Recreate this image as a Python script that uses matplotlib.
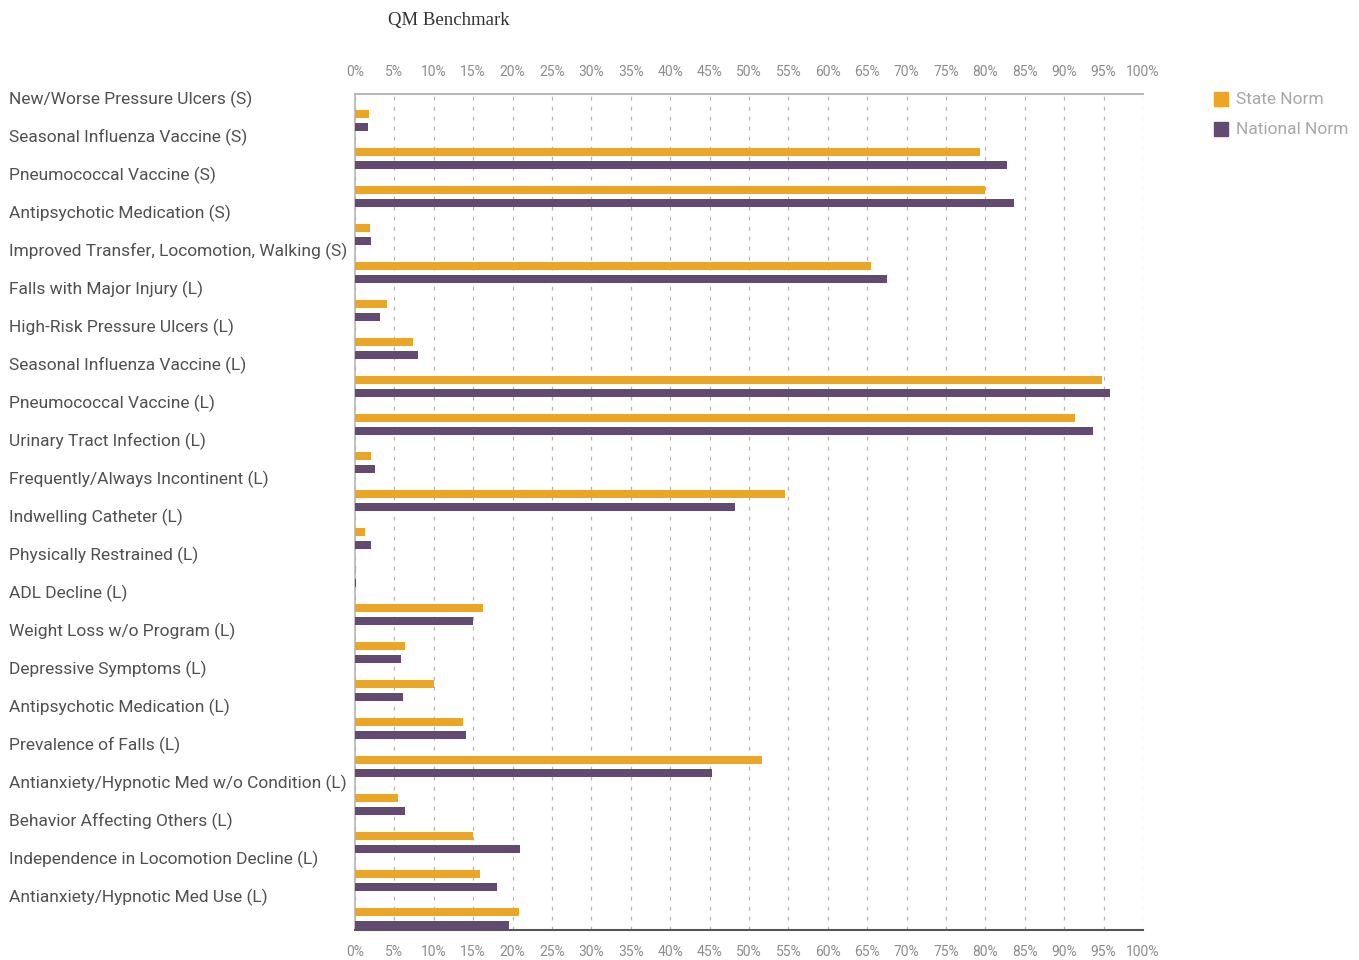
import numpy as np
import matplotlib
matplotlib.use('Agg')
import matplotlib.pyplot as plt
import matplotlib.transforms as mtransforms
from matplotlib.patches import Rectangle

# Category labels, top to bottom, as they appear on the left
labels = [
    'New/Worse Pressure Ulcers (S)',
    'Seasonal Influenza Vaccine (S)',
    'Pneumococcal Vaccine (S)',
    'Antipsychotic Medication (S)',
    'Improved Transfer, Locomotion, Walking (S)',
    'Falls with Major Injury (L)',
    'High-Risk Pressure Ulcers (L)',
    'Seasonal Influenza Vaccine (L)',
    'Pneumococcal Vaccine (L)',
    'Urinary Tract Infection (L)',
    'Frequently/Always Incontinent (L)',
    'Indwelling Catheter (L)',
    'Physically Restrained (L)',
    'ADL Decline (L)',
    'Weight Loss w/o Program (L)',
    'Depressive Symptoms (L)',
    'Antipsychotic Medication (L)',
    'Prevalence of Falls (L)',
    'Antianxiety/Hypnotic Med w/o Condition (L)',
    'Behavior Affecting Others (L)',
    'Independence in Locomotion Decline (L)',
    'Antianxiety/Hypnotic Med Use (L)',
]

# percent values, one per bar group (top to bottom)
state_norm = [1.8, 79.3, 80.0, 1.9, 65.5, 4.0, 7.3, 94.8, 91.4, 2.0, 54.6,
              1.3, 0.1, 16.3, 6.3, 10.0, 13.7, 51.6, 5.5, 15.0, 15.8, 20.8]
national_norm = [1.6, 82.7, 83.6, 2.0, 67.5, 3.2, 8.0, 95.8, 93.6, 2.5, 48.2,
                 2.0, 0.1, 15.0, 5.9, 6.1, 14.1, 45.3, 6.4, 20.9, 18.0, 19.6]

x_ticks = list(range(0, 101, 5))

ORANGE = '#eaa624'
PURPLE = '#624a70'

plt.rcParams['font.family'] = ['Roboto', 'DejaVu Sans']

fig = plt.figure(figsize=(13.59, 9.6), dpi=100)
ax = fig.add_axes([355 / 1359, 1 - 930 / 960, (1143 - 355) / 1359, (930 - 94) / 960])

n = len(labels)
slots = np.arange(n)
bar_h = 0.22
ax.barh(slots + 0.53, state_norm, height=bar_h, color=ORANGE, label='State Norm', zorder=3)
ax.barh(slots + 0.87, national_norm, height=bar_h, color=PURPLE, label='National Norm', zorder=3)

ax.set_xlim(0, 100)
ax.set_ylim(n, 0)
ax.set_xticks(x_ticks)
ax.set_xticklabels([f'{t}%' for t in x_ticks])
ax.set_yticks([])
ax.tick_params(axis='x', length=0, labeltop=True, labelbottom=True,
               labelsize=10, colors='#8c8c8c', pad=11)

ax.grid(axis='x', color='#b4b4b4', linestyle=(0, (3, 5)), linewidth=0.9, zorder=1)
ax.spines['right'].set_visible(False)
ax.spines['top'].set_color('#b8b8b8')
ax.spines['top'].set_linewidth(1.5)
ax.spines['left'].set_color('#b8b8b8')
ax.spines['left'].set_linewidth(1.2)
ax.spines['bottom'].set_color('#555555')
ax.spines['bottom'].set_linewidth(1.5)

# category labels, left aligned at the figure edge
trans = mtransforms.blended_transform_factory(fig.transFigure, ax.transData)
for i, lab in enumerate(labels):
    ax.text(9 / 1359, i + 0.14, lab, transform=trans, ha='left', va='center',
            fontsize=12.5, color='#505050', clip_on=False)

fig.text(449 / 1359, 1 - 20 / 960, 'QM Benchmark', ha='center', va='center',
         fontsize=13.5, color='#333333', family=['Liberation Serif', 'DejaVu Serif'])

# legend
for k, (name, col) in enumerate([('State Norm', ORANGE), ('National Norm', PURPLE)]):
    y = 1 - (99 + 30 * k) / 960
    fig.patches.append(Rectangle((1214 / 1359, y - 7 / 960), 14 / 1359, 14 / 960,
                                 transform=fig.transFigure, color=col, figure=fig))
    fig.text(1236 / 1359, y, name, ha='left', va='center', fontsize=12.5, color='#a8a8a8')

fig.savefig('out.png', dpi=100)
